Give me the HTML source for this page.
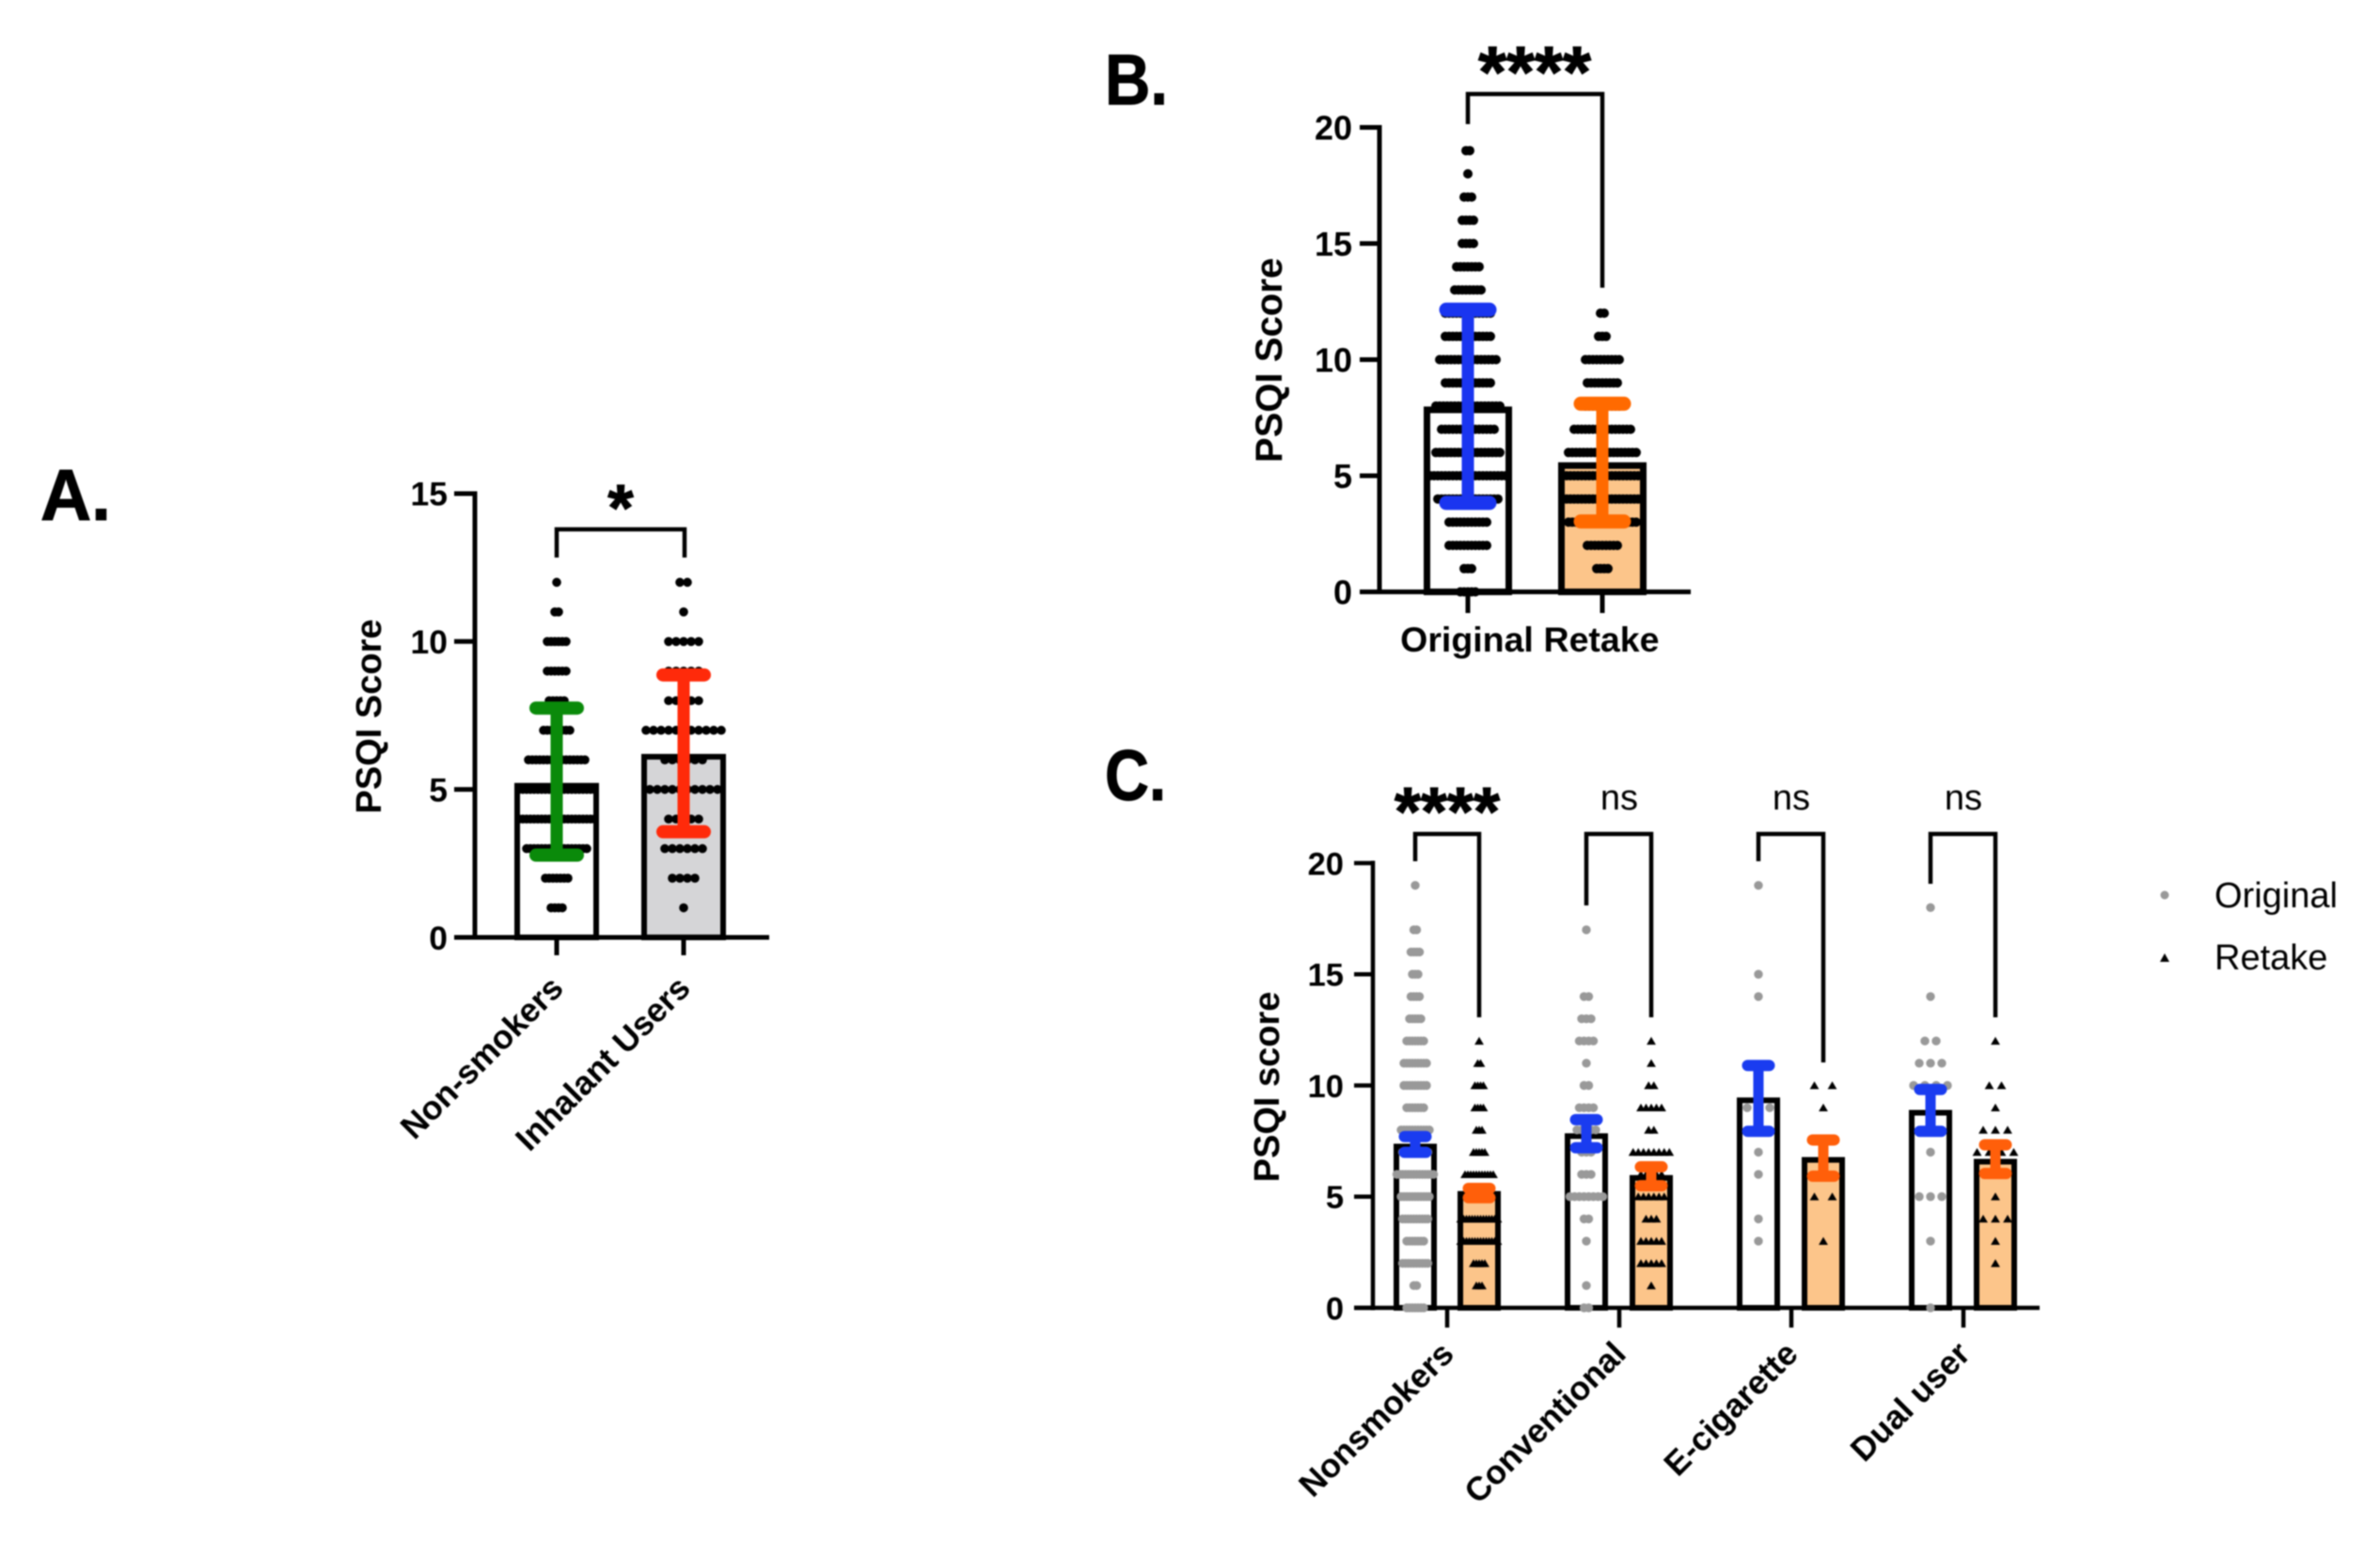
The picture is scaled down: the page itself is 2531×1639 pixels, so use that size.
<!DOCTYPE html>
<html lang="en">
<head>
<meta charset="utf-8">
<title>PSQI Score Charts</title>
<style>
html,body{margin:0;padding:0;background:#fff;}
#figure{display:block;width:2531px;height:1639px;filter:blur(0.9px);}
text{font-family:"Liberation Sans",Arial,sans-serif;fill:#000;}
</style>
</head>
<body>
<svg id="figure" xmlns="http://www.w3.org/2000/svg" width="2531" height="1639" viewBox="0 0 2531 1639">
  <rect width="2531" height="1639" fill="#fff"/>
  <text x="43" y="553" font-size="77" font-weight="700" stroke="#000" stroke-width="1" textLength="75" lengthAdjust="spacingAndGlyphs">A.</text>
  <text x="1175" y="111" font-size="76" font-weight="700" stroke="#000" stroke-width="1" textLength="67" lengthAdjust="spacingAndGlyphs">B.</text>
  <text x="1175" y="851" font-size="76" font-weight="700" stroke="#000" stroke-width="1" textLength="65" lengthAdjust="spacingAndGlyphs">C.</text>
  <text transform="translate(405,762) rotate(-90)" text-anchor="middle" font-size="38" font-weight="700">PSQI Score</text>
  <text transform="translate(1363,383) rotate(-90)" text-anchor="middle" font-size="40" font-weight="700">PSQI Score</text>
  <text transform="translate(1360,1156) rotate(-90)" text-anchor="middle" font-size="38" font-weight="700">PSQI score</text>
  <g>
    <circle cx="2302" cy="952" r="4.5" fill="#999"/>
    <text x="2355" y="965" font-size="38">Original</text>
    <polygon points="2302,1014 2307,1023 2297,1023" fill="#000"/>
    <text x="2355" y="1031" font-size="38">Retake</text>
  </g>
</svg>
<script>
/* ---------- Panel A data ---------- */
const aCategories = ['Non-smokers', 'Inhalant Users'];
const aTicks = [0, 5, 10, 15];
const aMeans = [5.22, 6.2];
const aErrHigh = [7.75, 8.87];
const aErrLow = [2.78, 3.57];
/* dots per score: index = PSQI score */
const aDotsNonSmokers = [0, 4, 7, 17, 21, 21, 16, 8, 5, 6, 6, 2, 1];
const aDotsInhalant = [0, 1, 4, 6, 5, 10, 6, 11, 5, 5, 5, 1, 2];

/* ---------- Panel B data ---------- */
const bCategories = ['Original', 'Retake'];
const bTicks = [0, 5, 10, 15, 20];
const bMeans = [7.98, 5.58];
const bErrHigh = [12.15, 8.1];
const bErrLow = [3.83, 3.03];
const bDotsOriginal = [5, 3, 11, 11, 17, 21, 18, 15, 18, 13, 16, 13, 13, 8, 7, 4, 4, 3, 1, 2];
const bDotsRetake = [0, 4, 9, 19, 22, 22, 19, 16, 10, 9, 10, 3, 2];

/* ---------- Panel C data ---------- */
const cCategories = ['Nonsmokers', 'Conventional', 'E-cigarette', 'Dual user'];
const cTicks = [0, 5, 10, 15, 20];
const cOriginalMeans = [7.38, 7.85, 9.46, 8.9];
const cRetakeMeans = [5.25, 5.97, 6.78, 6.7];
const cOriginalErrHigh = [7.7, 8.46, 10.9, 9.82];
const cOriginalErrLow = [6.99, 7.2, 7.94, 7.94];
const cRetakeErrHigh = [5.37, 6.34, 7.55, 7.33];
const cRetakeErrLow = [4.95, 5.49, 5.92, 6.04];
const cSignificance = ['****', 'ns', 'ns', 'ns'];
const cDotsOriginalNonsmokers = [7, 2, 10, 7, 10, 11, 14, 10, 11, 7, 9, 9, 7, 5, 4, 3, 4, 2, 0, 1];
const cDotsRetakeNonsmokers = [0, 3, 5, 14, 14, 9, 11, 5, 3, 4, 4, 2, 1];
const cDotsOriginalConventional = [2, 1, 0, 1, 2, 8, 3, 3, 5, 4, 2, 1, 4, 3, 2, 0, 0, 1];
const cDotsRetakeConventional = [0, 1, 5, 5, 3, 6, 5, 8, 2, 5, 2, 1, 1];
const cDotsOriginalEcig = [0, 0, 0, 1, 1, 0, 1, 1, 1, 3, 0, 0, 0, 0, 1, 1, 0, 0, 0, 1];
const cDotsRetakeEcig = [0, 0, 0, 1, 0, 2, 1, 1, 0, 1, 2];
const cDotsOriginalDual = [1, 0, 0, 1, 0, 3, 0, 1, 1, 0, 4, 3, 2, 0, 1, 0, 0, 0, 1];
const cDotsRetakeDual = [0, 0, 1, 1, 3, 1, 1, 4, 3, 1, 2, 0, 1];

/* ---------- Helpers ---------- */
const SVGNS = 'http://www.w3.org/2000/svg';
const root = document.getElementById('figure');
function make(tag, attrs, parent, txt) {
  const el = document.createElementNS(SVGNS, tag);
  for (const k in attrs) el.setAttribute(k, attrs[k]);
  if (txt !== undefined) el.textContent = txt;
  (parent || root).appendChild(el);
  return el;
}
function slug(s) {
  return s.toLowerCase().replace(/[^a-z0-9]+/g, '-');
}
function makeYScale(zeroY, unit) {
  return function (v) { return zeroY - v * unit; };
}
function drawAxes(prefix, f, ticks, yScale, xTicks) {
  const g = make('g', {}, root);
  
  
  const yLine = make('line', { x1: f.axisX, x2: f.axisX, y1: yScale(ticks[ticks.length - 1]) - 2.5, y2: f.zeroY + 2.5, stroke: '#000', 'stroke-width': f.axisW }, g);
  
  
  const xLine = make('line', { x1: f.tickLeft, x2: f.axisEnd, y1: f.zeroY, y2: f.zeroY, stroke: '#000', 'stroke-width': f.axisW }, g);
  
  
  ticks.forEach(function (t) {
    const tick = make('line', { x1: f.tickLeft, x2: f.axisX, y1: yScale(t), y2: yScale(t), stroke: '#000', 'stroke-width': f.axisW }, g);
    
    
    const lab = make('text', { x: f.labelRight, y: yScale(t) + f.tickFont * 0.36, 'text-anchor': 'end', 'font-size': f.tickFont, 'font-weight': 700 }, g, String(t));
    
    
  });
  xTicks.forEach(function (x, i) {
    const tick = make('line', { x1: x, x2: x, y1: f.zeroY, y2: f.tickBottom, stroke: '#000', 'stroke-width': f.axisW }, g);
    
    
  });
}
function drawBar(name, cx, outerW, mean, fill, f, yScale) {
  const t = f.barStroke;
  const top = yScale(mean) + t / 2;
  const bar = make('rect', { x: cx - outerW / 2 + t / 2, y: top, width: outerW - t, height: f.zeroY - top, fill: fill, stroke: '#000', 'stroke-width': t });
  
  
}
function drawDots(name, cx, counts, spacing, shape, color, yScale, r) {
  const g = make('g', {});
  
  
  counts.forEach(function (n, score) {
    for (let i = 0; i < n; i++) {
      const x = cx + (i - (n - 1) / 2) * spacing;
      const y = yScale(score);
      let m;
      if (shape === 'circle') {
        m = make('circle', { cx: x, cy: y, r: r, fill: color }, g);
      } else {
        m = make('polygon', { points: x + ',' + (y - r) + ' ' + (x + r + 0.5) + ',' + (y + r - 0.5) + ' ' + (x - r - 0.5) + ',' + (y + r - 0.5), fill: color }, g);
      }
      
      
    }
  });
}
function drawError(name, cx, hi, lo, capW, thick, stem, color, yScale) {
  const g = make('g', {});
  
  
  const s = make('line', { x1: cx, x2: cx, y1: yScale(hi), y2: yScale(lo), stroke: color, 'stroke-width': stem }, g);
  
  
  [hi, lo].forEach(function (v, i) {
    const c = make('line', { x1: cx - capW / 2 + thick / 2, x2: cx + capW / 2 - thick / 2, y1: yScale(v), y2: yScale(v), stroke: color, 'stroke-width': thick, 'stroke-linecap': 'round' }, g);
    
    
  });
}
function drawBracket(name, x1, x2, topY, y1, y2, w) {
  const p = make('path', { d: 'M' + x1 + ' ' + y1 + 'V' + topY + 'H' + x2 + 'V' + y2, fill: 'none', stroke: '#000', 'stroke-width': w });
  
  
}

/* ---------- Panel A ---------- */
const aFrame = { axisX: 505, zeroY: 997, unit: 31.47, tickLeft: 483, axisEnd: 818, tickBottom: 1016, axisW: 5, labelRight: 476, tickFont: 35.5, barStroke: 6 };
const yA = makeYScale(aFrame.zeroY, aFrame.unit);
const aCenters = [592, 727];
drawAxes('panel-a', aFrame, aTicks, yA, aCenters);
aCategories.forEach(function (c, i) {
  drawBar('panel-a-bar-' + slug(c), aCenters[i], 90, aMeans[i], i === 0 ? '#ffffff' : '#d5d5d7', aFrame, yA);
});
drawDots('panel-a-dots-non-smokers', aCenters[0], aDotsNonSmokers, 4, 'circle', '#000', yA, 4.8);
drawDots('panel-a-dots-inhalant-users', aCenters[1], aDotsInhalant, 8, 'circle', '#000', yA, 4.8);
drawError('panel-a-error-non-smokers', aCenters[0], aErrHigh[0], aErrLow[0], 58, 14, 13, '#0a8a0a', yA);
drawError('panel-a-error-inhalant-users', aCenters[1], aErrHigh[1], aErrLow[1], 58, 14, 13, '#ff2a0a', yA);
drawBracket('panel-a-significance-bracket', aCenters[0], aCenters[1] + 1, 563, 593, 593, 4.5);
const aStar = make('text', { x: 660, y: 564, 'text-anchor': 'middle', 'font-size': 70, 'font-weight': 700, stroke: '#000', 'stroke-width': 1.2 }, root, '*');


aCategories.forEach(function (c, i) {
  const x = aCenters[i] + 9;
  const y = 1053;
  const t = make('text', { transform: 'translate(' + x + ',' + y + ') rotate(-45)', 'text-anchor': 'end', 'font-size': 35.5, 'font-weight': 700 }, root, c);
  
  
});

/* ---------- Panel B ---------- */
const bFrame = { axisX: 1467, zeroY: 629.5, unit: 24.7, tickLeft: 1446, axisEnd: 1798, tickBottom: 652, axisW: 5, labelRight: 1438, tickFont: 36, barStroke: 7 };
const yB = makeYScale(bFrame.zeroY, bFrame.unit);
const bCenters = [1561, 1704];
drawAxes('panel-b', bFrame, bTicks, yB, bCenters);
bCategories.forEach(function (c, i) {
  drawBar('panel-b-bar-' + slug(c), bCenters[i], 94, bMeans[i], i === 0 ? '#ffffff' : '#fcc58a', bFrame, yB);
});
drawDots('panel-b-dots-original', bCenters[0], bDotsOriginal, 4, 'circle', '#000', yB, 5);
drawDots('panel-b-dots-retake', bCenters[1], bDotsRetake, 4, 'circle', '#000', yB, 5);
drawError('panel-b-error-original', bCenters[0], bErrHigh[0], bErrLow[0], 61, 15, 13, '#1a35f0', yB);
drawError('panel-b-error-retake', bCenters[1], bErrHigh[1], bErrLow[1], 61, 15, 13, '#ff6a00', yB);
drawBracket('panel-b-significance-bracket', bCenters[0], bCenters[1], 100, 132, 306, 4.5);
const bStar = make('text', { x: 1632, y: 103, 'text-anchor': 'middle', 'font-size': 77, 'font-weight': 700, stroke: '#000', 'stroke-width': 1.2 }, root, '****');


bCategories.forEach(function (c, i) {
  const t = make('text', { x: i === 0 ? 1560 : 1703, y: 693, 'text-anchor': 'middle', 'font-size': 37.5, 'font-weight': 700 }, root, c);
  
  
});

/* ---------- Panel C ---------- */
const cFrame = { axisX: 1460, zeroY: 1391, unit: 23.65, tickLeft: 1440, axisEnd: 2169, tickBottom: 1412, axisW: 4.5, labelRight: 1429, tickFont: 34.5, barStroke: 6 };
const yC = makeYScale(cFrame.zeroY, cFrame.unit);
const cOriginalX = [1505, 1687, 1870, 2053];
const cRetakeX = [1573, 1756, 1939, 2122];
const cGroupX = [1539, 1722, 1905, 2088];
drawAxes('panel-c', cFrame, cTicks, yC, cGroupX);
const cOriginalDots = [cDotsOriginalNonsmokers, cDotsOriginalConventional, cDotsOriginalEcig, cDotsOriginalDual];
const cRetakeDots = [cDotsRetakeNonsmokers, cDotsRetakeConventional, cDotsRetakeEcig, cDotsRetakeDual];
const cOriginalSpacing = [3, 5, 12, 12];
const cRetakeSpacing = [3, 5.5, 19, 13];
const cBracketLeftEnd = [916, 963, 916, 940];
const cBracketRightEnd = [1082, 1082, 1130, 1082];
cCategories.forEach(function (c, i) {
  const s = slug(c);
  drawBar('panel-c-bar-original-' + s, cOriginalX[i], 46, cOriginalMeans[i], '#ffffff', cFrame, yC);
  drawBar('panel-c-bar-retake-' + s, cRetakeX[i], 46, cRetakeMeans[i], '#fcc58a', cFrame, yC);
  drawDots('panel-c-dots-original-' + s, cOriginalX[i], cOriginalDots[i], cOriginalSpacing[i], 'circle', '#999', yC, 4.7);
  drawDots('panel-c-dots-retake-' + s, cRetakeX[i], cRetakeDots[i], cRetakeSpacing[i], 'triangle', '#000', yC, 4.4);
  drawError('panel-c-error-original-' + s, cOriginalX[i], cOriginalErrHigh[i], cOriginalErrLow[i], 35, 12, 11, '#1a3cf0', yC);
  drawError('panel-c-error-retake-' + s, cRetakeX[i], cRetakeErrHigh[i], cRetakeErrLow[i], 35, 12, 11, '#ff5f0a', yC);
  drawBracket('panel-c-bracket-' + s, cOriginalX[i], cRetakeX[i], 887, cBracketLeftEnd[i], cBracketRightEnd[i], 4.5);
  const isStar = cSignificance[i] === '****';
  const sig = make('text', { x: cGroupX[i], y: isStar ? 888 : 861, 'text-anchor': 'middle', 'font-size': isStar ? 72 : 38, 'font-weight': isStar ? 700 : 400, stroke: '#000', 'stroke-width': isStar ? 1.2 : 0 }, root, cSignificance[i]);
  
  
  const lx = cGroupX[i] + 9;
  const t = make('text', { transform: 'translate(' + lx + ',1442) rotate(-45)', 'text-anchor': 'end', 'font-size': 35.5, 'font-weight': 700 }, root, c);
  
  
});
</script>
</body>
</html>
